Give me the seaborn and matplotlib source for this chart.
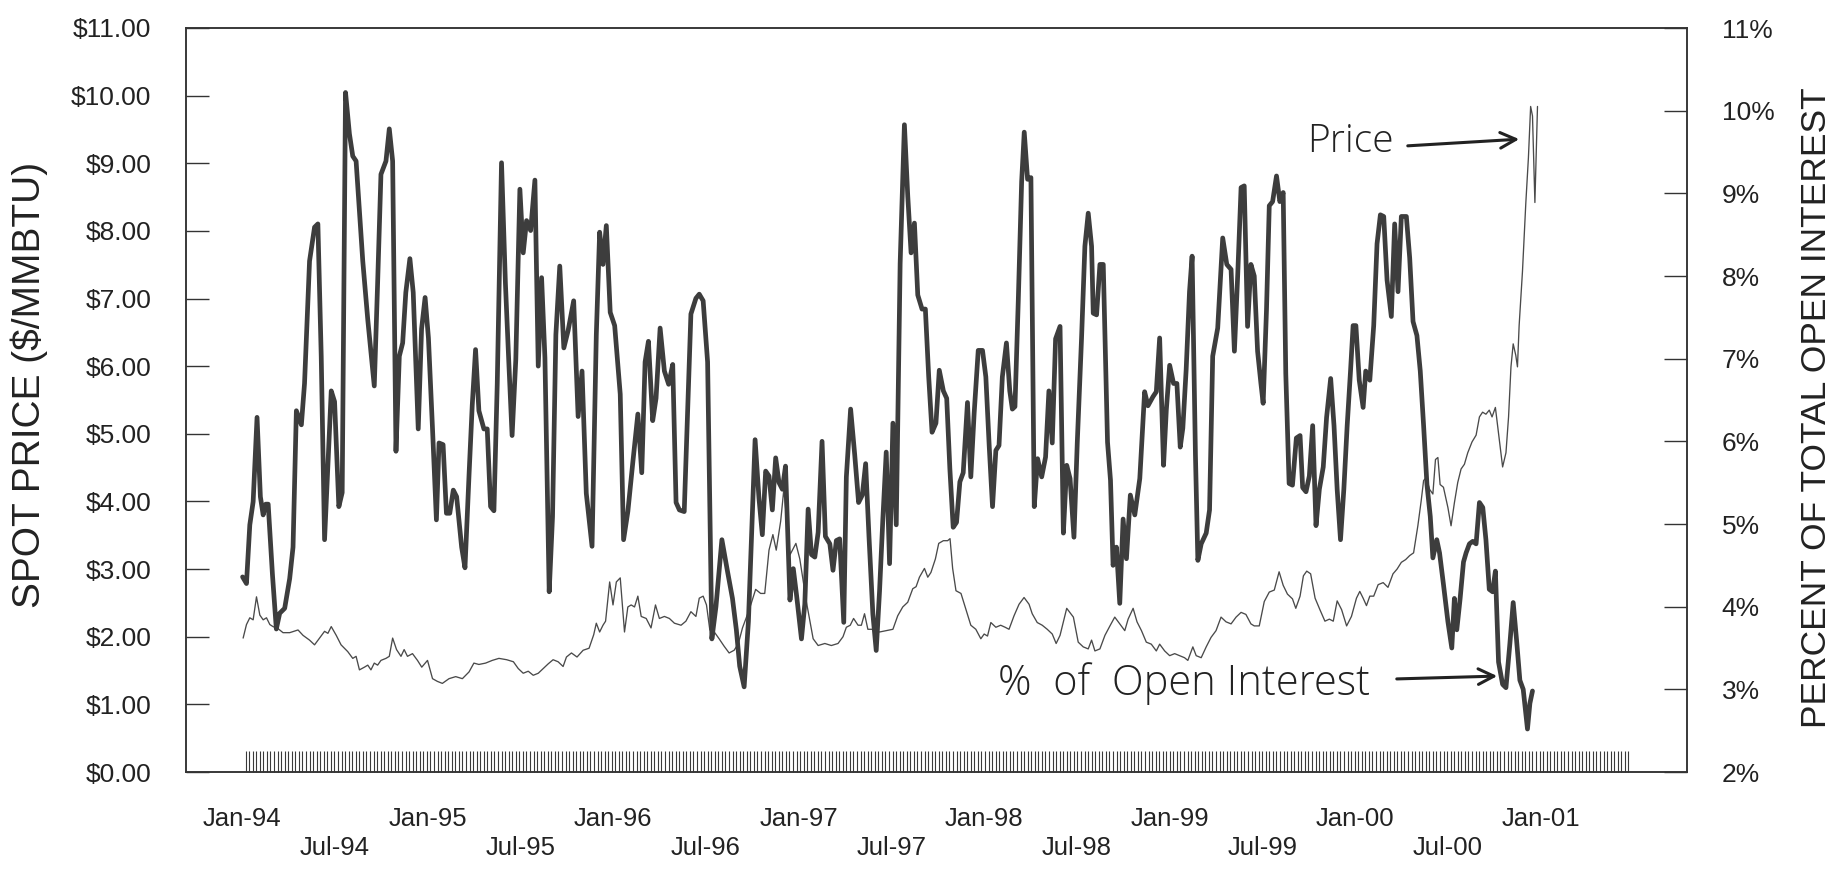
import numpy as np
import matplotlib
matplotlib.use('Agg')
import matplotlib.pyplot as plt
import seaborn as sns

# weekly series (decimal years)
# thick line: share of total open interest (right axis, %)
oi_years = [
    1994.003, 1994.024, 1994.042, 1994.060, 1994.081, 1994.099, 1994.114, 1994.128, 1994.141, 1994.164,
    1994.185, 1994.203, 1994.230, 1994.257, 1994.275, 1994.293, 1994.320, 1994.337, 1994.364, 1994.391,
    1994.409, 1994.427, 1994.445, 1994.463, 1994.481, 1994.499, 1994.522, 1994.540, 1994.558, 1994.579,
    1994.597, 1994.615, 1994.633, 1994.651, 1994.678, 1994.713, 1994.731, 1994.749, 1994.776, 1994.794,
    1994.812, 1994.830, 1994.848, 1994.866, 1994.883, 1994.905, 1994.923, 1994.950, 1994.968, 1994.987,
    1995.005, 1995.027, 1995.048, 1995.062, 1995.084, 1995.102, 1995.120, 1995.139, 1995.157, 1995.184,
    1995.202, 1995.224, 1995.241, 1995.259, 1995.277, 1995.304, 1995.322, 1995.340, 1995.358, 1995.376,
    1995.399, 1995.420, 1995.438, 1995.456, 1995.476,
    1995.498, 1995.516, 1995.534, 1995.556, 1995.579, 1995.597, 1995.615, 1995.633, 1995.656, 1995.674,
    1995.692, 1995.713, 1995.735, 1995.758, 1995.788, 1995.812, 1995.833, 1995.856, 1995.887, 1995.910,
    1995.928, 1995.946, 1995.964, 1995.985, 1996.009, 1996.039, 1996.057, 1996.080, 1996.107, 1996.134,
    1996.155, 1996.173, 1996.191, 1996.214, 1996.232, 1996.254, 1996.277, 1996.300, 1996.322, 1996.340,
    1996.358, 1996.384, 1996.420, 1996.447, 1996.465, 1996.486, 1996.510, 1996.533, 1996.555, 1996.587,
    1996.617, 1996.644, 1996.665, 1996.683, 1996.707, 1996.730, 1996.748, 1996.766, 1996.787, 1996.805,
    1996.823, 1996.841, 1996.859, 1996.877, 1996.895, 1996.913, 1996.930,
    1996.954, 1996.972, 1996.990, 1997.016, 1997.034, 1997.052, 1997.070, 1997.088, 1997.106, 1997.127,
    1997.145, 1997.169, 1997.186, 1997.204, 1997.222, 1997.244, 1997.258, 1997.281, 1997.303, 1997.324,
    1997.344, 1997.362, 1997.380, 1997.401, 1997.419, 1997.437, 1997.455, 1997.473, 1997.491, 1997.509,
    1997.527, 1997.548, 1997.571, 1997.589, 1997.607, 1997.625, 1997.643, 1997.666, 1997.684, 1997.702,
    1997.720, 1997.741, 1997.759, 1997.781, 1997.799, 1997.816, 1997.834, 1997.852, 1997.870, 1997.888,
    1997.911, 1997.929, 1997.947, 1997.969, 1997.992, 1998.010, 1998.028, 1998.046, 1998.064, 1998.081,
    1998.099, 1998.121, 1998.139, 1998.153, 1998.167, 1998.185, 1998.203, 1998.217, 1998.235, 1998.253,
    1998.271, 1998.289, 1998.311, 1998.332, 1998.350, 1998.368, 1998.386,
    1998.410, 1998.428, 1998.446, 1998.464, 1998.485, 1998.503, 1998.526, 1998.544, 1998.562, 1998.580,
    1998.589, 1998.607, 1998.625, 1998.643, 1998.657, 1998.666, 1998.682, 1998.696, 1998.714, 1998.732,
    1998.750, 1998.768, 1998.789, 1998.813, 1998.840, 1998.866, 1998.884, 1998.911, 1998.929, 1998.947,
    1998.968, 1998.983, 1999.001, 1999.022, 1999.040, 1999.058, 1999.072, 1999.090, 1999.108, 1999.122,
    1999.140, 1999.153, 1999.171, 1999.198, 1999.216, 1999.233, 1999.260, 1999.287, 1999.309, 1999.332,
    1999.350, 1999.368, 1999.386, 1999.403, 1999.421, 1999.439, 1999.457, 1999.475, 1999.493, 1999.505,
    1999.523, 1999.538, 1999.556, 1999.577, 1999.595, 1999.613, 1999.627, 1999.645, 1999.663, 1999.684,
    1999.704, 1999.718, 1999.736, 1999.754, 1999.772, 1999.790, 1999.808, 1999.829, 1999.847, 1999.869,
    1999.887, 1999.904, 1999.922, 1999.940, 1999.958, 1999.976, 1999.990, 2000.005, 2000.023, 2000.044,
    2000.058, 2000.080, 2000.101, 2000.119, 2000.137, 2000.155, 2000.173, 2000.196, 2000.214, 2000.232,
    2000.250, 2000.277, 2000.295, 2000.313, 2000.334, 2000.352, 2000.370, 2000.388, 2000.406, 2000.420,
    2000.441, 2000.456, 2000.477, 2000.501, 2000.522, 2000.536, 2000.549, 2000.567, 2000.585, 2000.599,
    2000.617, 2000.635, 2000.653, 2000.671, 2000.689, 2000.706, 2000.724, 2000.742, 2000.757, 2000.774,
    2000.796, 2000.814, 2000.835, 2000.853, 2000.871, 2000.889, 2000.907, 2000.930, 2000.943, 2000.957,
]
oi_pct = [
    4.36, 4.28, 4.99, 5.27, 6.29, 5.33, 5.11, 5.24, 5.24, 4.39,
    3.73, 3.92, 3.98, 4.34, 4.72, 6.37, 6.20, 6.70, 8.18, 8.59,
    8.63, 7.03, 4.81, 5.71, 6.61, 6.48, 5.21, 5.38, 10.22, 9.72,
    9.45, 9.39, 8.79, 8.18, 7.47, 6.67, 7.91, 9.23, 9.39, 9.78,
    9.39, 5.88, 7.03, 7.19, 7.80, 8.21, 7.80, 6.15, 7.36, 7.74,
    7.25, 6.15, 5.05, 5.98, 5.96, 5.13, 5.13, 5.41, 5.33, 4.72,
    4.47, 5.60, 6.43, 7.11, 6.37, 6.15, 6.15, 5.21, 5.16, 6.70,
    9.37, 7.91, 6.97, 6.07, 6.99,
    9.05, 8.28, 8.67, 8.55, 9.16, 6.91, 7.98, 7.01, 4.18, 5.09,
    7.29, 8.12, 7.13, 7.34, 7.70, 6.30, 6.85, 5.37, 4.73, 7.29,
    8.53, 8.14, 8.61, 7.56, 7.40, 6.57, 4.81, 5.15, 5.75, 6.33,
    5.62, 6.96, 7.21, 6.25, 6.52, 7.37, 6.85, 6.69, 6.93, 5.26,
    5.17, 5.15, 7.54, 7.73, 7.78, 7.70, 6.96, 3.61, 4.00, 4.81,
    4.43, 4.10, 3.72, 3.28, 3.03, 3.82, 4.93, 6.02, 5.31, 4.87,
    5.64, 5.58, 5.17, 5.80, 5.50, 5.42, 5.70,
    4.08, 4.46, 4.13, 3.61, 4.03, 5.18, 4.63, 4.60, 4.90, 6.00,
    4.85, 4.76, 4.44, 4.80, 4.82, 3.81, 5.57, 6.39, 5.84, 5.26,
    5.35, 5.73, 4.85, 3.91, 3.47, 4.19, 5.07, 5.87, 4.52, 6.22,
    4.99, 8.15, 9.83, 8.97, 8.28, 8.64, 7.77, 7.60, 7.60, 6.78,
    6.11, 6.22, 6.86, 6.61, 6.52, 5.67, 4.96, 5.02, 5.51, 5.62,
    6.47, 5.57, 6.34, 7.10, 7.10, 6.78, 5.95, 5.21, 5.89, 5.95,
    6.78, 7.19, 6.61, 6.39, 6.42, 7.71, 9.14, 9.74, 9.17, 9.19,
    5.21, 5.79, 5.57, 5.81, 6.61, 5.98, 7.24,
    7.39, 4.89, 5.71, 5.55, 4.84, 5.99, 7.25, 8.36, 8.76, 8.36,
    7.55, 7.53, 8.14, 8.14, 6.82, 5.99, 5.53, 4.50, 4.72, 4.04,
    5.06, 4.58, 5.35, 5.11, 5.55, 6.60, 6.43, 6.54, 6.60, 7.25,
    5.71, 6.38, 6.92, 6.70, 6.70, 5.93, 6.16, 6.87, 7.81, 8.24,
    5.83, 4.56, 4.76, 4.89, 5.17, 7.03, 7.37, 8.46, 8.14, 8.08,
    7.09, 8.02, 9.07, 9.09, 7.39, 8.14, 8.00, 7.09, 6.70, 6.46,
    7.59, 8.85, 8.90, 9.21, 8.90, 9.01, 6.82, 5.49, 5.47, 6.04,
    6.07, 5.44, 5.39, 5.58, 6.19, 4.98, 5.42, 5.69, 6.29, 6.76,
    6.19, 5.42, 4.81, 5.42, 6.19, 6.85, 7.40, 7.40, 6.74, 6.41,
    6.85, 6.74, 7.40, 8.39, 8.74, 8.72, 7.95, 7.51, 8.63, 7.81,
    8.72, 8.72, 8.22, 7.45, 7.28, 6.85, 6.19, 5.48, 5.09, 4.59,
    4.81, 4.65, 4.27, 3.82, 3.50, 4.10, 3.72, 4.10, 4.54, 4.65,
    4.76, 4.79, 4.76, 5.26, 5.20, 4.81, 4.21, 4.18, 4.43, 3.33,
    3.06, 3.02, 3.55, 4.05, 3.60, 3.11, 3.00, 2.52, 2.83, 2.98,
]

# thin line: spot price (left axis, $/MMBtu)
price_years = [
    1994.006, 1994.024, 1994.042, 1994.060, 1994.078, 1994.096, 1994.114, 1994.132, 1994.150, 1994.167,
    1994.194, 1994.221, 1994.257, 1994.302, 1994.329, 1994.364, 1994.391, 1994.418, 1994.445, 1994.463,
    1994.481, 1994.508, 1994.534, 1994.570, 1994.597, 1994.615, 1994.633, 1994.660, 1994.678, 1994.695,
    1994.713, 1994.731, 1994.749, 1994.776, 1994.794, 1994.812, 1994.833, 1994.857, 1994.874, 1994.892,
    1994.919, 1994.946, 1994.969, 1995.000, 1995.027, 1995.053, 1995.080, 1995.116, 1995.152, 1995.188,
    1995.224, 1995.250, 1995.277, 1995.313, 1995.349, 1995.385,
    1995.427, 1995.463, 1995.489, 1995.516, 1995.543, 1995.570, 1995.597, 1995.624, 1995.651, 1995.677,
    1995.704, 1995.731, 1995.749, 1995.776, 1995.806, 1995.839, 1995.871, 1995.896, 1995.910, 1995.928,
    1995.946, 1995.960, 1995.982, 1996.000, 1996.018, 1996.039, 1996.062, 1996.080, 1996.098, 1996.116,
    1996.134, 1996.152, 1996.179, 1996.205, 1996.229, 1996.250, 1996.277, 1996.304, 1996.331, 1996.367,
    1996.393, 1996.420, 1996.447, 1996.465, 1996.486, 1996.504, 1996.522, 1996.546, 1996.572, 1996.599,
    1996.626, 1996.653, 1996.676, 1996.698, 1996.725, 1996.746, 1996.769, 1996.796, 1996.818, 1996.841,
    1996.862, 1996.880, 1996.904, 1996.921,
    1996.954, 1996.986, 1997.007, 1997.043, 1997.079, 1997.106, 1997.142, 1997.177, 1997.213, 1997.240,
    1997.258, 1997.279, 1997.297, 1997.321, 1997.339, 1997.356, 1997.374, 1997.401, 1997.437, 1997.473,
    1997.509, 1997.535, 1997.562, 1997.589, 1997.616, 1997.634, 1997.652, 1997.679, 1997.697, 1997.714,
    1997.738, 1997.756, 1997.781, 1997.804, 1997.817, 1997.831, 1997.849, 1997.876, 1997.902, 1997.929,
    1997.956, 1997.983, 1998.001, 1998.019, 1998.037, 1998.064, 1998.090, 1998.114, 1998.135, 1998.162,
    1998.189, 1998.216, 1998.243, 1998.260, 1998.287, 1998.314, 1998.341, 1998.368, 1998.389,
    1998.410, 1998.446, 1998.482, 1998.508, 1998.535, 1998.562, 1998.580, 1998.598, 1998.625, 1998.652,
    1998.679, 1998.705, 1998.732, 1998.759, 1998.777, 1998.804, 1998.825, 1998.849, 1998.875, 1998.902,
    1998.929, 1998.947, 1998.974, 1999.001, 1999.028, 1999.054, 1999.081, 1999.099, 1999.126, 1999.144,
    1999.171, 1999.198, 1999.224, 1999.251, 1999.278, 1999.305, 1999.332, 1999.359, 1999.386, 1999.412,
    1999.439, 1999.457, 1999.484, 1999.511, 1999.538, 1999.565, 1999.591, 1999.613, 1999.636, 1999.663,
    1999.681,
    1999.704, 1999.722, 1999.740, 1999.761, 1999.785, 1999.811, 1999.838, 1999.862, 1999.883, 1999.904,
    1999.928, 1999.955, 1999.981, 2000.008, 2000.026, 2000.044, 2000.062, 2000.080, 2000.101, 2000.125,
    2000.152, 2000.178, 2000.205, 2000.227, 2000.250, 2000.273, 2000.295, 2000.316, 2000.339, 2000.357,
    2000.370, 2000.384, 2000.402, 2000.420, 2000.434, 2000.447, 2000.459, 2000.477, 2000.501, 2000.518,
    2000.536, 2000.554, 2000.572, 2000.590, 2000.608, 2000.631, 2000.653, 2000.671, 2000.688, 2000.706,
    2000.724, 2000.739, 2000.757, 2000.778, 2000.796, 2000.814, 2000.828, 2000.841, 2000.853, 2000.867,
    2000.876, 2000.885, 2000.903, 2000.921, 2000.935, 2000.947, 2000.957, 2000.970, 2000.984,
]
price_usd = [
    1.98, 2.18, 2.28, 2.25, 2.59, 2.32, 2.25, 2.28, 2.18, 2.15,
    2.12, 2.06, 2.06, 2.10, 2.02, 1.95, 1.88, 1.98, 2.08, 2.05,
    2.15, 2.02, 1.88, 1.78, 1.68, 1.71, 1.51, 1.55, 1.58, 1.51,
    1.61, 1.58, 1.65, 1.68, 1.71, 1.98, 1.81, 1.71, 1.81, 1.71,
    1.75, 1.65, 1.55, 1.65, 1.38, 1.34, 1.31, 1.38, 1.41, 1.38,
    1.48, 1.61, 1.59, 1.61, 1.65, 1.68,
    1.66, 1.63, 1.53, 1.46, 1.49, 1.43, 1.46, 1.53, 1.60, 1.66,
    1.63, 1.56, 1.70, 1.76, 1.70, 1.80, 1.83, 2.03, 2.20, 2.07,
    2.17, 2.23, 2.81, 2.47, 2.81, 2.87, 2.07, 2.44, 2.47, 2.44,
    2.60, 2.30, 2.27, 2.13, 2.47, 2.27, 2.30, 2.27, 2.20, 2.17,
    2.23, 2.37, 2.30, 2.57, 2.60, 2.47, 2.10, 2.07, 1.97, 1.86,
    1.76, 1.80, 1.90, 2.13, 2.33, 2.50, 2.70, 2.64, 2.64, 3.28,
    3.51, 3.28, 3.71, 4.18,
    3.21, 3.38, 3.15, 2.51, 1.97, 1.87, 1.90, 1.87, 1.90, 2.00,
    2.14, 2.17, 2.27, 2.17, 2.17, 2.34, 2.11, 2.11, 2.07, 2.09,
    2.11, 2.31, 2.44, 2.51, 2.71, 2.74, 2.88, 3.01, 2.88, 2.95,
    3.15, 3.38, 3.42, 3.42, 3.45, 3.01, 2.68, 2.64, 2.41, 2.17,
    2.11, 1.97, 2.04, 2.01, 2.21, 2.14, 2.17, 2.14, 2.11, 2.31,
    2.48, 2.58, 2.48, 2.34, 2.21, 2.17, 2.11, 2.04, 1.90,
    2.02, 2.42, 2.29, 1.92, 1.85, 1.82, 1.95, 1.79, 1.82, 2.02,
    2.16, 2.29, 2.19, 2.09, 2.26, 2.42, 2.22, 2.09, 1.92, 1.89,
    1.79, 1.89, 1.79, 1.72, 1.75, 1.72, 1.69, 1.65, 1.85, 1.72,
    1.69, 1.85, 1.99, 2.09, 2.29, 2.22, 2.19, 2.29, 2.36, 2.33,
    2.19, 2.16, 2.16, 2.52, 2.66, 2.69, 2.96, 2.76, 2.63, 2.56,
    2.42,
    2.60, 2.90, 2.97, 2.93, 2.57, 2.40, 2.23, 2.26, 2.23, 2.53,
    2.40, 2.16, 2.30, 2.57, 2.67, 2.57, 2.46, 2.60, 2.60, 2.77,
    2.80, 2.73, 2.93, 3.00, 3.10, 3.14, 3.20, 3.24, 3.64, 4.01,
    4.31, 4.35, 4.18, 4.11, 4.62, 4.65, 4.25, 4.21, 3.91, 3.64,
    3.98, 4.28, 4.48, 4.55, 4.72, 4.88, 4.98, 5.25, 5.32, 5.29,
    5.35, 5.25, 5.39, 4.92, 4.51, 4.72, 5.25, 5.99, 6.33, 6.16,
    5.99, 6.60, 7.40, 8.41, 9.08, 9.84, 9.70, 8.42, 9.84,
]

tick_years = [1994.0 + 0.5 * i for i in range(15)]
tick_labels = ['Jan-94', 'Jul-94', 'Jan-95', 'Jul-95', 'Jan-96', 'Jul-96', 'Jan-97', 'Jul-97',
               'Jan-98', 'Jul-98', 'Jan-99', 'Jul-99', 'Jan-00', 'Jul-00', 'Jan-01']
price_ticks = list(range(0, 12))
pct_ticks = list(range(2, 12))

sns.set_style('white')
plt.rcParams['font.family'] = ['Liberation Sans', 'DejaVu Sans']

W, H = 1847, 872
fig = plt.figure(figsize=(W / 100, H / 100), dpi=100)
left, right, top, bottom = 186, 1687, 28, 772
ax = fig.add_axes([left / W, (H - bottom) / H, (right - left) / W, (bottom - top) / H])
ax2 = ax.twinx()

sns.lineplot(x=price_years, y=price_usd, ax=ax, color='#4a4a4a', linewidth=0.95,
             sort=False, estimator=None)
sns.lineplot(x=oi_years, y=oi_pct, ax=ax2, color='#3d3d3d', linewidth=3.4,
             sort=False, estimator=None)

ax.set_xlim(1993.698, 2001.79)
ax.set_ylim(0, 11)
ax2.set_ylim(2, 11)

# left axis
ax.set_yticks(price_ticks)
ax.set_yticklabels([f'${v:.2f}' for v in price_ticks], fontsize=19, color='#222')
ax.tick_params(axis='y', direction='in', length=16.5, width=1.0, color='#333', pad=25)
# right axis
ax2.set_yticks(pct_ticks)
ax2.set_yticklabels([f'{v}%' for v in pct_ticks], fontsize=19, color='#222')
ax2.tick_params(axis='y', direction='in', length=16.5, width=1.0, color='#333', pad=25)

# x axis: staggered Jan / Jul labels and a weekly tick band
ax.set_xticks(tick_years)
ax.set_xticklabels([lab if lab.startswith('Jan') else '\n' + lab for lab in tick_labels],
                   fontsize=18.5, color='#222', linespacing=1.3)
ax.tick_params(axis='x', which='major', length=0, pad=25)
weeks = 1994.0 + np.arange(0, 391) / 52.18
ax.set_xticks(weeks, minor=True)
ax.tick_params(axis='x', which='minor', direction='in', length=15, width=0.8,
               color='#3a3a3a', bottom=True)

ax.set_xlabel('')
ax.set_ylabel('')
ax2.set_ylabel('')
for a in (ax, ax2):
    for s in a.spines.values():
        s.set_color('#333')
        s.set_linewidth(1.1)

fig.text(29 / W, (H - 385) / H, 'SPOT PRICE ($/MMBTU)', rotation=90, ha='center', va='center',
         fontsize=28, color='#222')
fig.text(1817 / W, (H - 408) / H, 'PERCENT OF TOTAL OPEN INTEREST', rotation=90, ha='center',
         va='center', fontsize=25.5, color='#222')

# handwritten notes
hand = ['Open Sans', 'DejaVu Sans']
fig.text(1307 / W, (H - 142) / H, 'Price', fontsize=28, family=hand, fontweight='light',
         ha='left', va='center', color='#222')
ax.annotate('', xy=(1522 / W, (H - 139) / H), xytext=(1405 / W, (H - 146) / H),
            xycoords='figure fraction', textcoords='figure fraction',
            arrowprops=dict(arrowstyle='->', lw=2.2, color='#222', mutation_scale=28))
fig.text(998 / W, (H - 684) / H, '%  of  Open Interest', fontsize=30, family=hand,
         fontweight='light', ha='left', va='center', color='#222')
ax.annotate('', xy=(1500 / W, (H - 676) / H), xytext=(1394 / W, (H - 679) / H),
            xycoords='figure fraction', textcoords='figure fraction',
            arrowprops=dict(arrowstyle='->', lw=2.2, color='#222', mutation_scale=28))

fig.savefig('out.png', dpi=100)
